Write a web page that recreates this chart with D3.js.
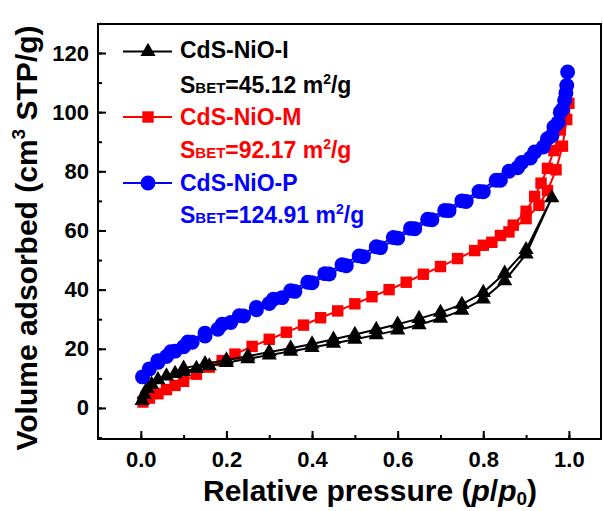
<!DOCTYPE html>
<html><head><meta charset="utf-8">
<script src="https://cdn.jsdelivr.net/npm/d3@7"></script>
<style>
html,body{margin:0;padding:0;background:#fff;}
svg{display:block;}
text{font-family:"Liberation Sans",Arial,sans-serif;font-weight:bold;}
</style></head>
<body>
<svg id="chart" width="603" height="511"></svg>
<script>
// ---- data ----
const xTicks = [0.0, 0.2, 0.4, 0.6, 0.8, 1.0];
const xTickLabels = ["0.0", "0.2", "0.4", "0.6", "0.8", "1.0"];
const yTicks = [0, 20, 40, 60, 80, 100, 120];
const yTickLabels = ["0", "20", "40", "60", "80", "100", "120"];

// CdS-NiO-I (black, triangles)
const iAdsX = [0.003,0.008,0.015,0.025,0.04,0.06,0.08,0.1,0.13,0.16,0.2,0.25,0.3,0.35,0.4,0.45,0.5,0.55,0.6,0.65,0.7,0.75,0.8,0.85,0.9,0.96];
const iAdsY = [2.5,4.5,6.5,8,9.5,10.8,11.6,12.3,13.3,14.2,15.3,16.6,17.9,19.1,20.4,21.8,23.2,24.7,26.3,28.1,30.3,33,36.8,43,52,71];
const iDesX = [0.9,0.85,0.8,0.75,0.7,0.65,0.6,0.55,0.5,0.45,0.4,0.35,0.3,0.25,0.2,0.15,0.1];
const iDesY = [53.5,45.5,39,35,32.3,30.2,28.3,26.5,24.8,23.2,21.6,20.2,18.9,17.5,16.2,14.9,13.4];

// CdS-NiO-M (red, squares)
const mAdsX = [0.005,0.02,0.04,0.06,0.08,0.1,0.13,0.16,0.19,0.22,0.26,0.3,0.34,0.38,0.42,0.46,0.5,0.54,0.58,0.62,0.66,0.7,0.74,0.78,0.82,0.86,0.9,0.93,0.95,0.97,0.985,0.995];
const mAdsY = [2,3.3,4.8,6.2,7.6,9,11.4,13.8,16,18.2,20.8,23.2,25.6,28,30.5,32.8,35.2,37.6,40,42.5,45.2,47.8,50.5,53.2,56,59.5,64,68.5,73.5,80.5,88.5,97.5];
const mDesX = [1.0,0.99,0.98,0.965,0.95,0.935,0.92,0.9,0.87,0.84,0.8];
const mDesY = [103,99,94,87,81,76,71.5,66.5,61.8,58.3,55];

// CdS-NiO-P (blue, circles)
const pAdsX = [0.004,0.02,0.04,0.06,0.08,0.1,0.12,0.15,0.18,0.21,0.24,0.27,0.3,0.33,0.36,0.4,0.44,0.48,0.52,0.56,0.6,0.64,0.68,0.72,0.76,0.8,0.84,0.88,0.91,0.94,0.96,0.975,0.985,0.993,0.997];
const pAdsY = [10.5,13.2,15.4,17.4,19.2,20.7,22.2,24.3,26.6,28.9,31.1,33.2,35.3,37.3,39.4,42.3,45.3,48.1,51.1,54.2,57.4,60.6,63.6,66.7,69.8,73.1,77,81.2,84.5,88.2,92,96.5,101,106.5,113.6];
const pDesX = [0.995,0.99,0.98,0.965,0.95,0.92,0.89,0.86,0.83,0.79,0.75,0.71,0.67,0.63,0.59,0.55,0.51,0.47,0.43,0.39,0.35,0.31,0.27,0.23,0.19,0.15,0.11,0.07,0.04];
const pDesY = [109,104,100,95,91,86.5,83,80,77,73.2,70,66.8,63.8,60.7,57.6,54.5,51.4,48.4,45.4,42.5,39.6,36.8,34,31.2,28.3,25.3,22.3,19,16];

const seriesNames = ["CdS-NiO-I", "CdS-NiO-M", "CdS-NiO-P"];
const sbetValues = ["45.12", "92.17", "124.91"];

// ---- layout ----
const L = 98, R = 601, T = 24, B = 439;
const svg = d3.select("#chart");
const x = d3.scaleLinear().domain([-0.1, 1.075]).range([L, R]);
const y = d3.scaleLinear().domain([-10.5, 129.8]).range([B, T]);

const triSize = 100, sqSize = 130, circSize = 175;
const zip = (xs, ys) => xs.map((v, i) => [v, ys[i]]);
const series = [
  {name: seriesNames[1], color: "#ff0000", shape: d3.symbolSquare, size: sqSize, data: zip(mAdsX, mAdsY).concat(zip(mDesX, mDesY))},
  {name: seriesNames[0], color: "#000000", shape: d3.symbolTriangle, size: triSize, data: zip(iAdsX, iAdsY).concat(zip(iDesX, iDesY))},
  {name: seriesNames[2], color: "#0000ff", shape: d3.symbolCircle, size: circSize, data: zip(pAdsX, pAdsY).concat(zip(pDesX, pDesY))}
];

const line = d3.line().x(d => x(d[0])).y(d => y(d[1]));
series.forEach(s => {
  const g = svg.append("g");
  g.append("path").attr("d", line(s.data)).attr("fill", "none")
    .attr("stroke", s.color).attr("stroke-width", 2);
  g.selectAll("path.m").data(s.data).enter().append("path").attr("class", "m")
    .attr("d", d3.symbol().type(s.shape).size(s.size))
    .attr("transform", d => `translate(${x(d[0])},${y(d[1])})`)
    .attr("fill", s.color);
});

// ---- axes ----
const xMinor = d3.range(0, 1.05, 0.1).map(v => +v.toFixed(1));
const yMinor = d3.range(-10, 131, 10);
svg.append("g").attr("transform", `translate(0,${B})`)
  .call(d3.axisBottom(x).tickValues(xMinor).tickSizeInner(-4).tickSizeOuter(0).tickFormat(""))
  .call(g => g.select(".domain").remove())
  .selectAll("line").attr("stroke", "#000").attr("stroke-width", 2);
svg.append("g").attr("transform", `translate(${L},0)`)
  .call(d3.axisLeft(y).tickValues(yMinor).tickSizeInner(-4).tickSizeOuter(0).tickFormat(""))
  .call(g => g.select(".domain").remove())
  .selectAll("line").attr("stroke", "#000").attr("stroke-width", 2);

const xa = svg.append("g").attr("transform", `translate(0,${B})`)
  .call(d3.axisBottom(x).tickValues(xTicks).tickSizeInner(-8).tickSizeOuter(0).tickPadding(12)
    .tickFormat((d, i) => xTickLabels[i]));
xa.select(".domain").remove();
xa.selectAll("line").attr("stroke", "#000").attr("stroke-width", 2);
xa.selectAll("text").attr("fill", "#000").style("font-size", "22px")
  .style("font-family", "'Liberation Sans',Arial,sans-serif").style("font-weight", "bold");

const ya = svg.append("g").attr("transform", `translate(${L},0)`)
  .call(d3.axisLeft(y).tickValues(yTicks).tickSizeInner(-8).tickSizeOuter(0).tickPadding(9)
    .tickFormat((d, i) => yTickLabels[i]));
ya.select(".domain").remove();
ya.selectAll("line").attr("stroke", "#000").attr("stroke-width", 2);
ya.selectAll("text").attr("fill", "#000").style("font-size", "22px")
  .style("font-family", "'Liberation Sans',Arial,sans-serif").style("font-weight", "bold");

svg.append("rect").attr("x", L).attr("y", T).attr("width", R - L).attr("height", B - T)
  .attr("fill", "none").attr("stroke", "#000").attr("stroke-width", 2);

// ---- axis titles ----
const xt = svg.append("text").attr("x", 203).attr("y", 501).style("font-size", "30px").attr("fill", "#000");
xt.append("tspan").text("Relative pressure (");
xt.append("tspan").text("p").style("font-style", "italic");
xt.append("tspan").text("/");
xt.append("tspan").text("p").style("font-style", "italic");
xt.append("tspan").text("0").style("font-size", "19px").attr("dy", 4);
xt.append("tspan").text(")").attr("dy", -4);

const yt = svg.append("text").attr("transform", "translate(37,238) rotate(-90)")
  .attr("text-anchor", "middle").style("font-size", "30px").attr("fill", "#000");
yt.append("tspan").text("Volume adsorbed (cm");
yt.append("tspan").text("3").style("font-size", "19px").attr("dy", -12);
yt.append("tspan").text(" STP/g)").attr("dy", 12);

// ---- legend ----
const legRows = [
  {color: "#000000", shape: d3.symbolTriangle, size: triSize, yLine: 51.5, yName: 58, ySbet: 92.5, idx: 0},
  {color: "#ff0000", shape: d3.symbolSquare, size: sqSize, yLine: 117, yName: 125, ySbet: 158, idx: 1},
  {color: "#0000ff", shape: d3.symbolCircle, size: circSize, yLine: 183, yName: 190.5, ySbet: 223, idx: 2}
];
legRows.forEach(r => {
  svg.append("line").attr("x1", 123).attr("x2", 172).attr("y1", r.yLine).attr("y2", r.yLine)
    .attr("stroke", r.color).attr("stroke-width", 2);
  svg.append("path").attr("d", d3.symbol().type(r.shape).size(r.size)())
    .attr("transform", `translate(148,${r.yLine})`).attr("fill", r.color);
  svg.append("text").attr("x", 180).attr("y", r.yName).style("font-size", "23px")
    .attr("fill", r.color).text(seriesNames[r.idx]);
  const t = svg.append("text").attr("x", 180).attr("y", r.ySbet).style("font-size", "23px").attr("fill", r.color);
  t.append("tspan").text("S");
  t.append("tspan").text("BET").style("font-size", "15px");
  t.append("tspan").text("=" + sbetValues[r.idx] + " m");
  t.append("tspan").text("2").style("font-size", "14px").attr("dy", -9);
  t.append("tspan").text("/g").attr("dy", 9);
});
</script>
</body></html>
